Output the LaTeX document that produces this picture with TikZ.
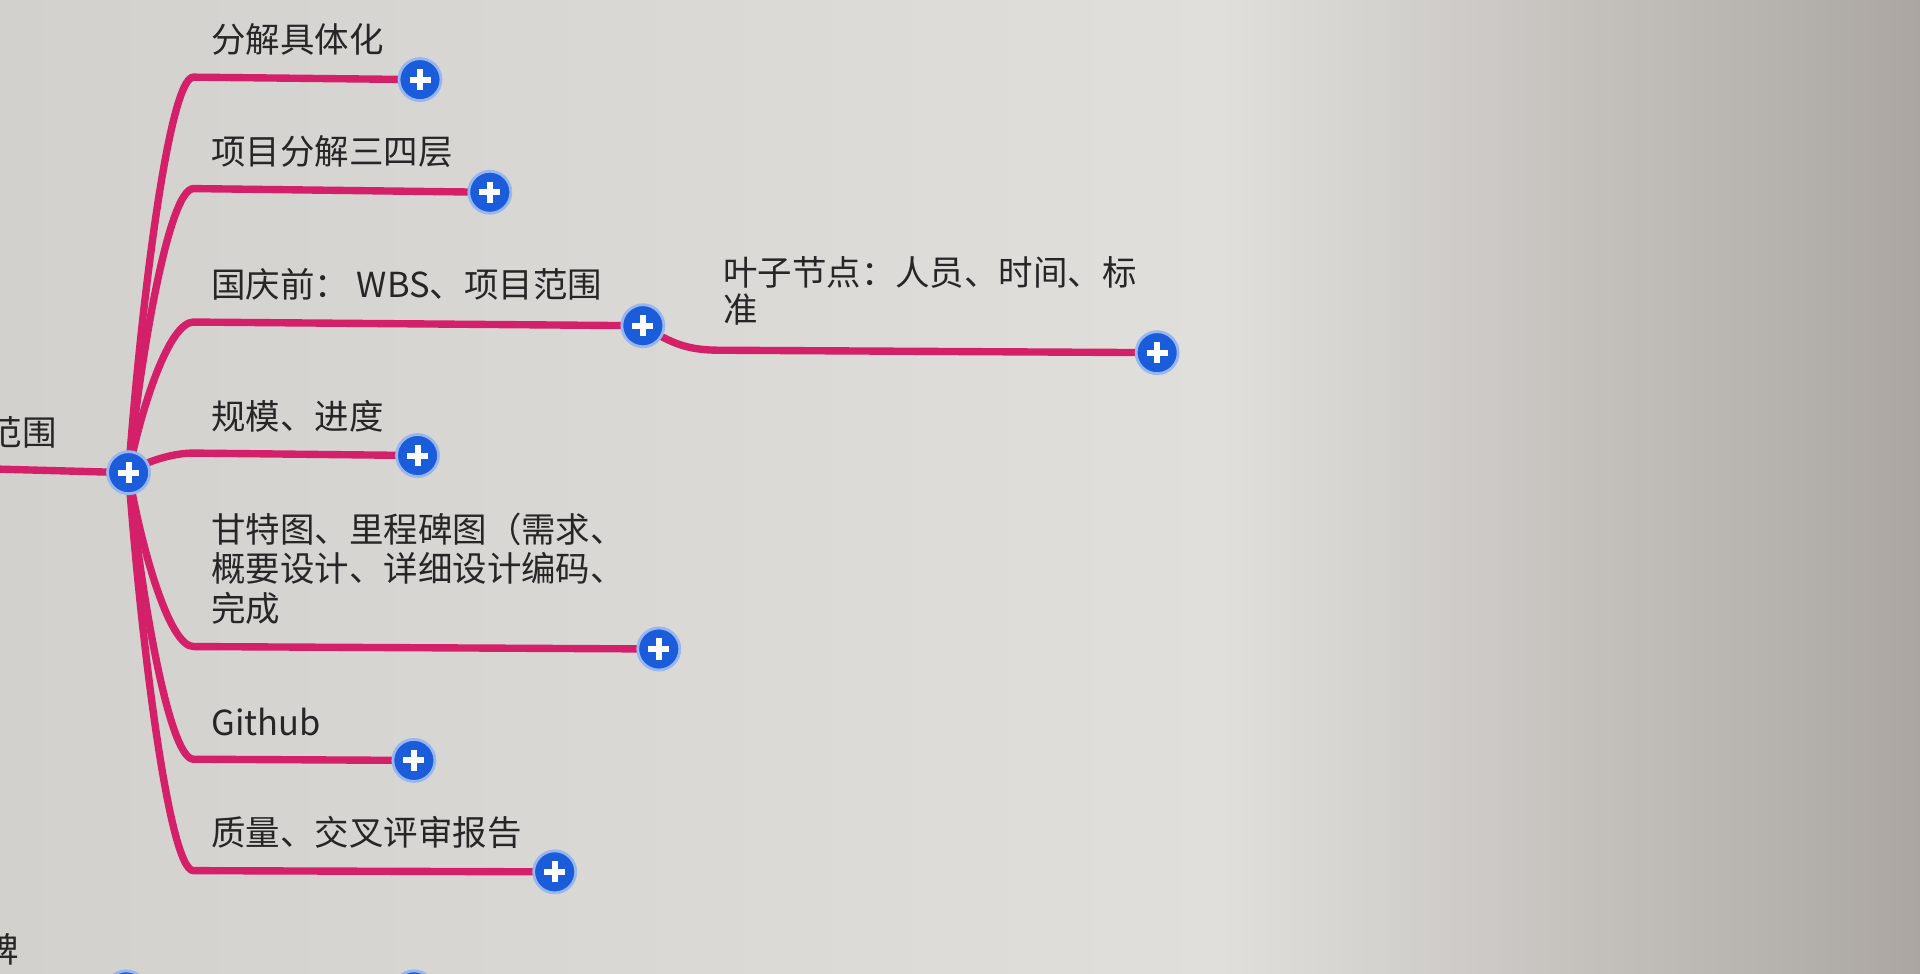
\documentclass[tikz,border=0pt]{standalone}
\usepackage{fontspec}
\setmainfont{Noto Sans CJK SC}
\usepackage{tikz}
\usetikzlibrary{positioning,calc}

\definecolor{branchred}{HTML}{D42068}
\definecolor{btnblue}{HTML}{1B5CDB}
\definecolor{inkgray}{HTML}{262626}
\definecolor{bgl}{HTML}{D3D1CE}
\definecolor{bgm}{HTML}{E0DFDC}
\definecolor{bgr}{HTML}{ABA6A1}

\pgfdeclarelayer{bg}
\pgfdeclarelayer{wires}
\pgfsetlayers{bg,wires,main}

\begin{document}
\begin{tikzpicture}[
  x=0.012245cm, y=-0.012245cm,
  topic/.style={anchor=west, inner sep=0pt, align=left, text=inkgray, font=\fontsize{9.8}{11.3}\selectfont},
  btn/.style={circle, fill=btnblue, draw=white!55!btnblue, line width=0.8pt, minimum size=0.42cm, inner sep=0pt,
    path picture={\draw[white, line width=1.7pt]
      ([xshift=-0.105cm]path picture bounding box.center) -- ([xshift=0.105cm]path picture bounding box.center)
      ([yshift=-0.105cm]path picture bounding box.center) -- ([yshift=0.105cm]path picture bounding box.center);}},
  branch/.style={draw=branchred, line width=2.1pt, line cap=round}
]
\useasboundingbox (0,0) rectangle (1568,795);
\begin{pgfonlayer}{bg}
\shade[left color=bgl, right color=bgm] (0,0) rectangle (1000,795);
\shade[left color=bgm, right color=bgr] (999,0) rectangle (1568,795);
\end{pgfonlayer}

% buttons
\node[btn] (root) at (105,386) {};
\node[btn] (b1) at (343,65) {};
\node[btn] (b2) at (400,157) {};
\node[btn] (b3) at (525,266) {};
\node[btn] (b4) at (341,372) {};
\node[btn] (b5) at (538,530) {};
\node[btn] (b6) at (338,621) {};
\node[btn] (b7) at (453,712) {};
\node[btn] (b8) at (945,288) {};
\node[btn] (b9) at (103,810) {};
\node[btn] (b10) at (338,810) {};

% labels
\node[topic, anchor=east] (t0) at (47,353) {范围};
\node[topic] (t1) at (172,32) {分解具体化};
\node[topic] (t2) at (172,124) {项目分解三四层};
\node[topic] (t3) at (172,232) {国庆前： WBS、项目范围};
\node[topic] (t4) at (172,340) {规模、进度};
\node[topic, anchor=north west] (t5) at (172,418) {甘特图、里程碑图（需求、\\概要设计、详细设计编码、\\完成};
\node[topic] (t6) at (172,590) {Github};
\node[topic] (t7) at (172,680) {质量、交叉评审报告};
\node[topic, anchor=north west, font=\fontsize{9.8}{10.4}\selectfont] (t8) at (590,209) {叶子节点：人员、时间、标\\准};
\node[topic, anchor=east] (t9) at (16,775) {碑};

% corners
\coordinate (in) at (-5,383);
\coordinate (k1) at (158,63);
\coordinate (k2) at (158,154);
\coordinate (k3) at (158,263);
\coordinate (k4) at (158,370);
\coordinate (k5) at (158,528);
\coordinate (k6) at (158,620);
\coordinate (k7) at (158,711);
\coordinate (k8) at (588,286);

\begin{pgfonlayer}{wires}
\draw[branch] (in) -- (root.center);
\draw[branch] (root.center) .. controls (115,250) and (138,63) .. (k1) -- (b1.center);
\draw[branch] (root.center) .. controls (115,289) and (138,154) .. (k2) -- (b2.center);
\draw[branch] (root.center) .. controls (115,334) and (138,263) .. (k3) -- (b3.center);
\draw[branch] (root.center) .. controls (115,379) and (138,370) .. (k4) -- (b4.center);
\draw[branch] (root.center) .. controls (115,446) and (138,528) .. (k5) -- (b5.center);
\draw[branch] (root.center) .. controls (115,484) and (138,620) .. (k6) -- (b6.center);
\draw[branch] (root.center) .. controls (115,522) and (138,711) .. (k7) -- (b7.center);
\draw[branch] (b3.center) .. controls (548,280) and (560,286) .. (k8) -- (b8.center);
\end{pgfonlayer}
\end{tikzpicture}
\end{document}
